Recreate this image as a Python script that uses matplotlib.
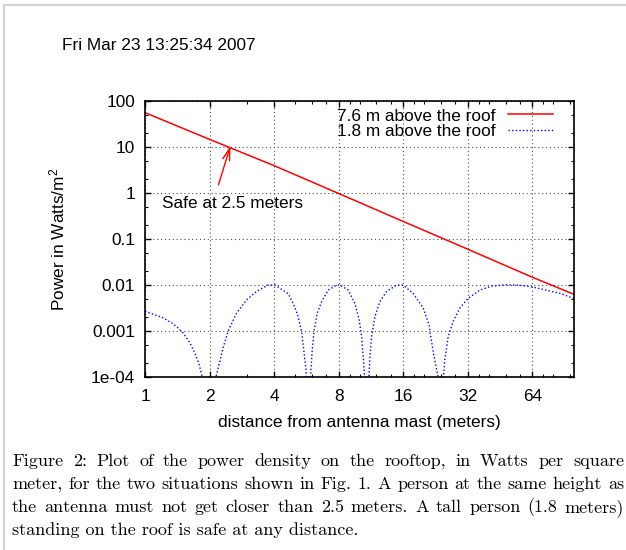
import matplotlib

matplotlib.use("Agg")

import matplotlib.pyplot as plt
from matplotlib.lines import Line2D
from matplotlib.ticker import FixedFormatter, FixedLocator, LogLocator, NullFormatter

# --- data ---
near_x = [1, 2, 4, 8, 16, 32, 64, 100]
near_power = [55, 14.5, 3.9, 0.97, 0.24, 0.060, 0.0148, 0.0063]

tall_x = [
    1.0, 1.2, 1.33, 1.43, 1.51, 1.62, 1.71, 1.79, 1.85, 2.0,
    2.14, 2.22, 2.32, 2.44, 2.67, 2.98, 3.31, 3.75, 4.03, 4.65,
    4.91, 5.18, 5.37, 5.50, 5.63, 5.77, 5.94, 6.02, 6.13, 6.35,
    6.66, 7.15, 7.82, 8.1, 8.86, 9.52, 9.97, 10.23, 10.41, 10.56,
    10.8, 11.06, 11.18, 11.39, 11.8, 12.45, 13.38, 14.9, 16.0, 17.8,
    19.8, 21.1, 21.3, 22.0, 22.9, 23.3, 23.9, 24.6, 25.0, 25.9,
    27.3, 29.4, 32.0, 36.4, 41.3, 47.6, 54.9, 63.4, 75.7, 87.4,
    100,
]
tall_power = [
    0.0027, 0.0020, 0.00153, 0.00116, 0.0009, 0.00056, 0.00033, 0.000185, 0.0001, 0.00001,
    0.0001, 0.0002, 0.00046, 0.001, 0.00245, 0.0048, 0.0073, 0.0100, 0.0101, 0.0065,
    0.0040, 0.00207, 0.00098, 0.00039, 0.000144, 0.00001, 0.000144, 0.00039, 0.00098, 0.00245,
    0.0044, 0.0078, 0.0100, 0.0101, 0.0078, 0.0040, 0.00175, 0.00076, 0.00028, 0.0001,
    0.00001, 0.0001, 0.00028, 0.00076, 0.00207, 0.0044, 0.0073, 0.0100, 0.0100, 0.0066,
    0.0032, 0.00137, 0.00098, 0.00039, 0.000144, 0.0001, 0.00001, 0.0001, 0.00024, 0.00076,
    0.00162, 0.0032, 0.0051, 0.0078, 0.0095, 0.0101, 0.0100, 0.0092, 0.0076, 0.0065,
    0.0051,
]

series_labels = ["7.6 m above the roof", "1.8 m above the roof"]

x_ticks = [1, 2, 4, 8, 16, 32, 64]
x_tick_labels = ["1", "2", "4", "8", "16", "32", "64"]
x_minor_ticks = [3, 5, 6, 7, 9, 10, 12, 14, 18, 20, 24, 28, 36, 40, 48, 56, 72, 80, 96]
y_ticks = [1e-4, 1e-3, 1e-2, 0.1, 1, 10, 100]
y_tick_labels = ["1e-04", "0.001", "0.01", "0.1", "1", "10", "100"]

note_text = "Safe at 2.5 meters"
note_pos = (1.2, 0.59)
arrow_tail = (2.2, 1.5)
arrow_tip = (2.5, 10.3)

stamp = "Fri Mar 23 13:25:34 2007"
caption_lines = [
    "Figure 2: Plot of the power density on the rooftop, in Watts per square",
    "meter, for the two situations shown in Fig. 1. A person at the same height as",
    "the antenna must not get closer than 2.5 meters. A tall person (1.8 meters)",
    "standing on the roof is safe at any distance.",
]

W, H = 626, 550
SANS = ["Liberation Sans", "DejaVu Sans"]
SERIF = ["cmr10", "DejaVu Serif"]
plt.rcParams["font.family"] = SANS
plt.rcParams["mathtext.default"] = "regular"
FS = 12.4

fig = plt.figure(figsize=(W / 100, H / 100), dpi=100)
ax = fig.add_axes([145 / W, 1 - 377.3 / H, 429 / W, 276.6 / H])

ax.plot(near_x, near_power, color="#ff0000", lw=1.1, label=series_labels[0])
ax.plot(tall_x, tall_power, color="#0000ff", lw=1.0, linestyle=(0, (1, 1.6)), label=series_labels[1])

ax.set_xscale("log", base=2)
ax.set_yscale("log")
ax.set_xlim(1, 100)
ax.set_ylim(1e-4, 100)

ax.xaxis.set_major_locator(FixedLocator(x_ticks))
ax.xaxis.set_major_formatter(FixedFormatter(x_tick_labels))
ax.xaxis.set_minor_locator(FixedLocator(x_minor_ticks))
ax.xaxis.set_minor_formatter(NullFormatter())
ax.yaxis.set_major_locator(FixedLocator(y_ticks))
ax.yaxis.set_major_formatter(FixedFormatter(y_tick_labels))
ax.yaxis.set_minor_locator(LogLocator(base=10, subs=(2, 5)))
ax.yaxis.set_minor_formatter(NullFormatter())

ax.tick_params(which="both", direction="in", top=True, right=True, labelsize=FS, color="black")
ax.tick_params(which="major", length=4, width=1.0)
ax.tick_params(which="minor", length=2, width=0.8)
ax.tick_params(axis="x", pad=8.5)
ax.tick_params(axis="y", pad=7)
for sp in ax.spines.values():
    sp.set_linewidth(1.2)

ax.grid(True, which="major", color="0.3", lw=0.8, linestyle=(0, (1, 2.5)))

ax.set_xlabel("distance from antenna mast (meters)", fontsize=FS)
ax.xaxis.set_label_coords(0.5, -0.135)
ax.set_ylabel("Power in Watts/m$^2$", fontsize=FS)
ax.yaxis.set_label_coords(-0.182, 0.5)

ax.text(*note_pos, note_text, fontsize=FS, ha="left", va="center")
ax.annotate(
    "",
    xy=arrow_tip,
    xytext=arrow_tail,
    arrowprops=dict(arrowstyle="->,head_length=0.6,head_width=0.18", color="#ff0000",
                    lw=1.0, shrinkA=0, shrinkB=0, mutation_scale=14),
)

ax.legend(
    loc="upper right",
    bbox_to_anchor=(0.952, 0.972),
    frameon=False,
    markerfirst=False,
    fontsize=FS,
    handlelength=2.65,
    handletextpad=0.7,
    labelspacing=0.02,
    borderpad=0,
    borderaxespad=0,
)

fig.text(62 / W, 1 - 46 / H, stamp, fontsize=FS, ha="left", va="center")

# page frame remnants
fig.add_artist(Line2D([4 / W, 1], [1 - 5 / H, 1 - 5 / H], transform=fig.transFigure, color="#d2d2d2", lw=1.6))
fig.add_artist(Line2D([4 / W, 4 / W], [0, 1 - 5 / H], transform=fig.transFigure, color="#d2d2d2", lw=1.6))

# justified caption
renderer = fig.canvas.get_renderer()
cap_fs = 13
left_px, right_px = 12, 624
for i, line in enumerate(caption_lines):
    y = 1 - (466 + 23 * i) / H
    if i == len(caption_lines) - 1:
        fig.text(left_px / W, y, line, fontsize=cap_fs, family=SERIF, va="baseline")
        continue
    words = line.split(" ")
    texts = [fig.text(0, y, w, fontsize=cap_fs, family=SERIF, va="baseline") for w in words]
    widths = [t.get_window_extent(renderer).width for t in texts]
    gap = (right_px - left_px - sum(widths)) / (len(words) - 1)
    x = left_px
    for t, w in zip(texts, widths):
        t.set_x(x / W)
        x += w + gap

fig.savefig("out.png", dpi=100)
